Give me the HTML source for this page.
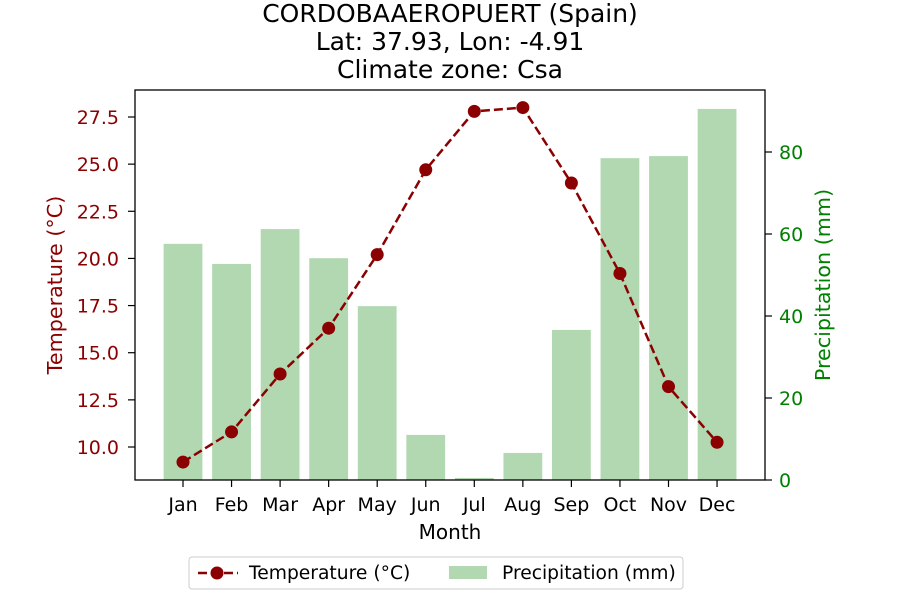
<!DOCTYPE html>
<html><head><meta charset="utf-8"><style>
body{margin:0;background:#fff;}
svg{font-family:"DejaVu Sans","Liberation Sans",sans-serif;}
</style></head><body>
<svg id="chart" width="900" height="600" xmlns="http://www.w3.org/2000/svg">
<text x="450" y="22" style="font-size:25px" text-anchor="middle">CORDOBAAEROPUERT (Spain)</text>
<text x="450" y="50" style="font-size:25px" text-anchor="middle">Lat: 37.93, Lon: -4.91</text>
<text x="450" y="78" style="font-size:25px" text-anchor="middle">Climate zone: Csa</text>
<g id="bars"></g>
<g id="line"></g>
<g id="axes"></g>
<rect x="135" y="90" width="630" height="390" fill="none" stroke="#000" stroke-width="1.3"/>
<text x="450" y="539" style="font-size:20px" text-anchor="middle">Month</text>
<text transform="translate(62,285) rotate(-90)" style="font-size:20.7px" text-anchor="middle" fill="#8b0000">Temperature (°C)</text>
<text transform="translate(830,285) rotate(-90)" style="font-size:20.7px" text-anchor="middle" fill="#008000">Precipitation (mm)</text>
<g>
<rect x="189" y="557" width="494" height="32" rx="3" fill="#fff" stroke="#ccc"/>
<line x1="198" y1="573" x2="238" y2="573" stroke="#8b0000" stroke-width="2.5" stroke-dasharray="9,4"/>
<circle cx="217" cy="573" r="6.5" fill="#8b0000"/>
<text x="249" y="579" style="font-size:18.7px">Temperature (°C)</text>
<rect x="449" y="566" width="38" height="13" fill="#b1d8b1"/>
<text x="502" y="579" style="font-size:18.7px">Precipitation (mm)</text>
</g>
</svg>
<script>
const months=["Jan","Feb","Mar","Apr","May","Jun","Jul","Aug","Sep","Oct","Nov","Dec"];
const temperature=[9.2,10.8,13.87,16.3,20.2,24.7,27.8,28.0,24.0,19.2,13.2,10.25];
const precipitation=[57.6,52.7,61.2,54.1,42.4,11,0.5,6.6,36.6,78.5,79,90.5];
const tempTicks=[10.0,12.5,15.0,17.5,20.0,22.5,25.0,27.5];
const precipTicks=[0,20,40,60,80];
const NS="http://www.w3.org/2000/svg";
const x=i=>183+i*48.55;
const yT=v=>447-(v-10)*18.857;
const yP=v=>480-v*4.1;
function el(t,a,p){const e=document.createElementNS(NS,t);for(const k in a)e.setAttribute(k,a[k]);p.appendChild(e);return e;}
const bars=document.getElementById('bars'),line=document.getElementById('line'),axes=document.getElementById('axes');
precipitation.forEach((v,i)=>{
 const r=el('rect',{x:x(i)-19.4,y:yP(v),width:38.8,height:480-yP(v),fill:'#b1d8b1'},bars);
 
 
});
const pl=el('polyline',{points:temperature.map((v,i)=>x(i)+','+yT(v)).join(' '),fill:'none',stroke:'#8b0000','stroke-width':2.5,'stroke-dasharray':'9,4'},line);


temperature.forEach((v,i)=>{
 const c=el('circle',{cx:x(i),cy:yT(v),r:6.5,fill:'#8b0000'},line);
 
 
});
months.forEach((m,i)=>{
 el('line',{x1:x(i),x2:x(i),y1:480,y2:487,stroke:'#000','stroke-width':1.2},axes);
 const t=el('text',{x:x(i),y:511,style:'font-size:19px','text-anchor':'middle'},axes);t.textContent=m;
 
 
});
tempTicks.forEach(v=>{
 el('line',{x1:128,x2:135,y1:yT(v),y2:yT(v),stroke:'#000','stroke-width':1.2},axes);
 const t=el('text',{x:119,y:yT(v)+7,style:'font-size:19px','text-anchor':'end',fill:'#8b0000'},axes);t.textContent=v.toFixed(1);
 
 
});
precipTicks.forEach(v=>{
 el('line',{x1:765,x2:772,y1:yP(v),y2:yP(v),stroke:'#000','stroke-width':1.2},axes);
 const t=el('text',{x:779,y:yP(v)+7,style:'font-size:19px',fill:'#008000'},axes);t.textContent=v;
 
 
});
</script>
</body></html>
